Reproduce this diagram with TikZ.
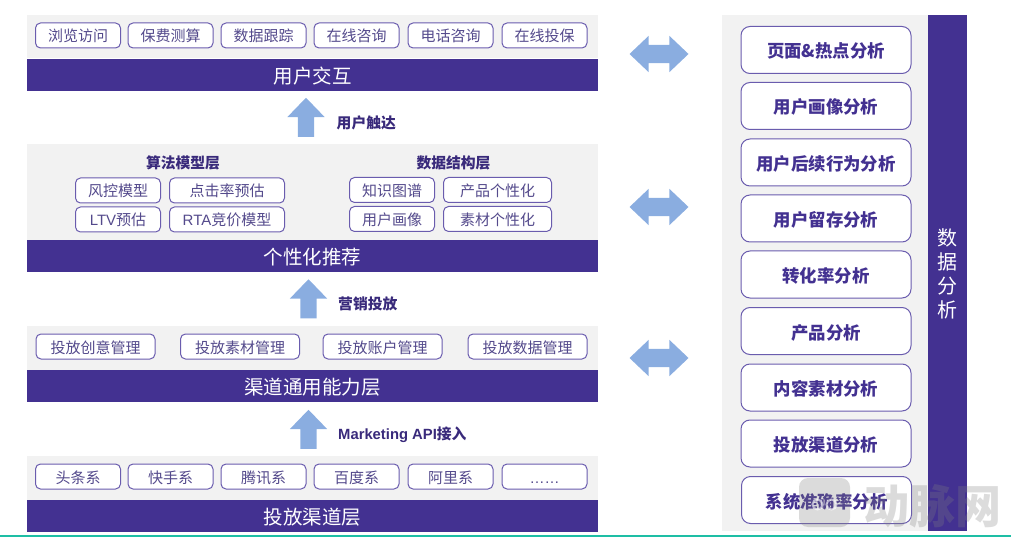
\documentclass[tikz,border=0pt]{standalone}
\usepackage{fontspec}
\setmainfont{Noto Sans CJK SC}
\newfontfamily\latinfont{Liberation Sans}
\usepackage{tikz}
\usetikzlibrary{shapes.arrows}
\usepackage{xcolor}
\definecolor{deeppurple}{RGB}{67,49,145}
\definecolor{chipline}{RGB}{106,92,174}
\definecolor{chiptext}{RGB}{84,74,140}
\definecolor{softgray}{RGB}{242,242,242}
\definecolor{softblue}{RGB}{138,173,224}
\definecolor{bottomteal}{RGB}{30,190,165}
\tikzset{
  panel/.style={fill=softgray,draw=none,inner sep=0pt,anchor=north west},
  layerbar/.style={fill=deeppurple,draw=none,inner sep=0pt,text=white,font=\fontsize{19.5}{22}\selectfont,
    minimum width=571,minimum height=32,text height=19,text depth=2.2},
  chip/.style={draw=chipline,fill=white,rounded corners=5,line width=1pt,inner sep=0pt,minimum height=25,
    text=chiptext,font=\fontsize{15}{18}\selectfont,text height=15,text depth=2},
  bigchip/.style={chip,rounded corners=9,minimum width=170,minimum height=47,text=deeppurple,
    font=\fontsize{17.4}{20}\selectfont\bfseries,text height=18,text depth=2},
  headnote/.style={text=deeppurple!85!black,inner sep=0pt,font=\fontsize{14.8}{18}\selectfont\bfseries},
  uparrow/.style={single arrow,fill=softblue,draw=none,inner sep=8,shape border rotate=90,
    minimum width=37,minimum height=39,single arrow head extend=10.5,single arrow tip angle=88},
  linkarrow/.style={double arrow,fill=softblue,draw=none,inner sep=9,
    minimum width=36,minimum height=59,double arrow head extend=9,double arrow tip angle=87},
  markstyle/.style={opacity=.28,inner sep=0pt}
}
\begin{document}
\begin{tikzpicture}[x=1pt,y=-1pt]
  \useasboundingbox (0,0) rectangle (1011,537);
  % panels
  \node[panel,minimum width=571,minimum height=43] (toppanel) at (27,15) {};
  \node[panel,minimum width=571,minimum height=96] (modelpanel) at (27,144) {};
  \node[panel,minimum width=571,minimum height=44] (apipanel) at (27,326) {};
  \node[panel,minimum width=571,minimum height=44] (channelpanel) at (27,456) {};
  \node[panel,minimum width=206,minimum height=516] (analysispanel) at (722,15) {};
  % layer bars
  \node[layerbar] (interact) at (312.5,75) {用户交互};
  \node[layerbar] (recommend) at (312.5,256) {个性化推荐};
  \node[layerbar] (ability) at (312.5,386) {渠道通用能力层};
  \node[layerbar] (channel) at (312.5,516) {投放渠道层};
  \node[fill=deeppurple,inner sep=0pt,minimum width=39,minimum height=516] (analysis) at (947.5,273) {};
  \node[text=white,align=center,inner sep=0pt,font=\fontsize{20}{24}\selectfont] (analysistext) at (947.5,273.5) {数\\据\\分\\析};
  % top row
  \node[chip,minimum width=85] (browse) at (78,35.5) {浏览访问};
  \node[chip,minimum width=85] (quote) at (170.5,35.5) {保费测算};
  \node[chip,minimum width=85] (track) at (263.5,35.5) {数据跟踪};
  \node[chip,minimum width=85] (online) at (356.5,35.5) {在线咨询};
  \node[chip,minimum width=85] (phone) at (450.5,35.5) {电话咨询};
  \node[chip,minimum width=85] (insure) at (544.5,35.5) {在线投保};
  % model layer
  \node[headnote] (algohead) at (183,163) {算法模型层};
  \node[headnote] (datahead) at (453.5,163) {数据结构层};
  \node[chip,minimum width=85] (risk) at (118,190.5) {风控模型};
  \node[chip,minimum width=115] (ctr) at (227,190.5) {点击率预估};
  \node[chip,minimum width=85] (ltv) at (118,219.5) {{\latinfont LTV}预估};
  \node[chip,minimum width=115] (rta) at (227,219.5) {{\latinfont RTA}竞价模型};
  \node[chip,minimum width=85] (graph) at (392,190) {知识图谱};
  \node[chip,minimum width=108] (product) at (497.5,190) {产品个性化};
  \node[chip,minimum width=85] (portrait) at (392,219) {用户画像};
  \node[chip,minimum width=108] (material) at (497.5,219) {素材个性化};
  % api layer
  \node[chip,minimum width=119] (idea) at (95.5,346.5) {投放创意管理};
  \node[chip,minimum width=119] (asset) at (240,346.5) {投放素材管理};
  \node[chip,minimum width=119] (account) at (382.5,346.5) {投放账户管理};
  \node[chip,minimum width=119] (datamgr) at (527.5,346.5) {投放数据管理};
  % channel row
  \node[chip,minimum width=85] (toutiao) at (78,476.5) {头条系};
  \node[chip,minimum width=85] (kuaishou) at (170.5,476.5) {快手系};
  \node[chip,minimum width=85] (tencent) at (263.5,476.5) {腾讯系};
  \node[chip,minimum width=85] (baidu) at (356.5,476.5) {百度系};
  \node[chip,minimum width=85] (ali) at (450.5,476.5) {阿里系};
  \node[chip,minimum width=85] (more) at (544.5,476.5) {\latinfont ……};
  % analysis column
  \node[bigchip] (pagehot) at (826,50) {页面\&热点分析};
  \node[bigchip] (userimg) at (826,106) {用户画像分析};
  \node[bigchip] (follow) at (826,162.5) {用户后续行为分析};
  \node[bigchip] (retain) at (826,218.5) {用户留存分析};
  \node[bigchip] (convert) at (826,274.5) {转化率分析};
  \node[bigchip] (prodana) at (826,331) {产品分析};
  \node[bigchip] (content) at (826,387.5) {内容素材分析};
  \node[bigchip] (chanana) at (826,443.5) {投放渠道分析};
  \node[bigchip] (sysacc) at (826.5,500) {系统准确率分析};
  % arrows
  \node[uparrow] (touch) at (306,121.5) {};
  \node[uparrow] (market) at (308.5,303) {};
  \node[uparrow] (apiup) at (308.5,433.5) {};
  \node[headnote,anchor=west] (touchnote) at (336.5,122.5) {用户触达};
  \node[headnote,anchor=west] (marketnote) at (338,304) {营销投放};
  \node[headnote,anchor=west] (apinote) at (338,434.5) {{\latinfont Marketing API}接入};
  \node[linkarrow] (linktop) at (659,54) {};
  \node[linkarrow] (linkmid) at (659,207) {};
  \node[linkarrow] (linklow) at (659,358) {};
  % bottom rule and mark
  \coordinate (ruleleft) at (0,536);
  \coordinate (ruleright) at (1011,536);
  \draw[bottomteal,line width=2pt] (ruleleft) -- (ruleright);
  \node[markstyle,fill=gray,rounded corners=9,minimum width=51,minimum height=49] (marklogo) at (824.5,502.5) {};
  \draw[white,opacity=.6,line width=2pt] (marklogo.center) ++(-7,2) circle (5) ++(14,0) circle (5);
  \node[markstyle,text=gray,font=\fontsize{46}{50}\selectfont\bfseries] (marktext) at (932.5,506) {动脉网};
\end{tikzpicture}
\end{document}
